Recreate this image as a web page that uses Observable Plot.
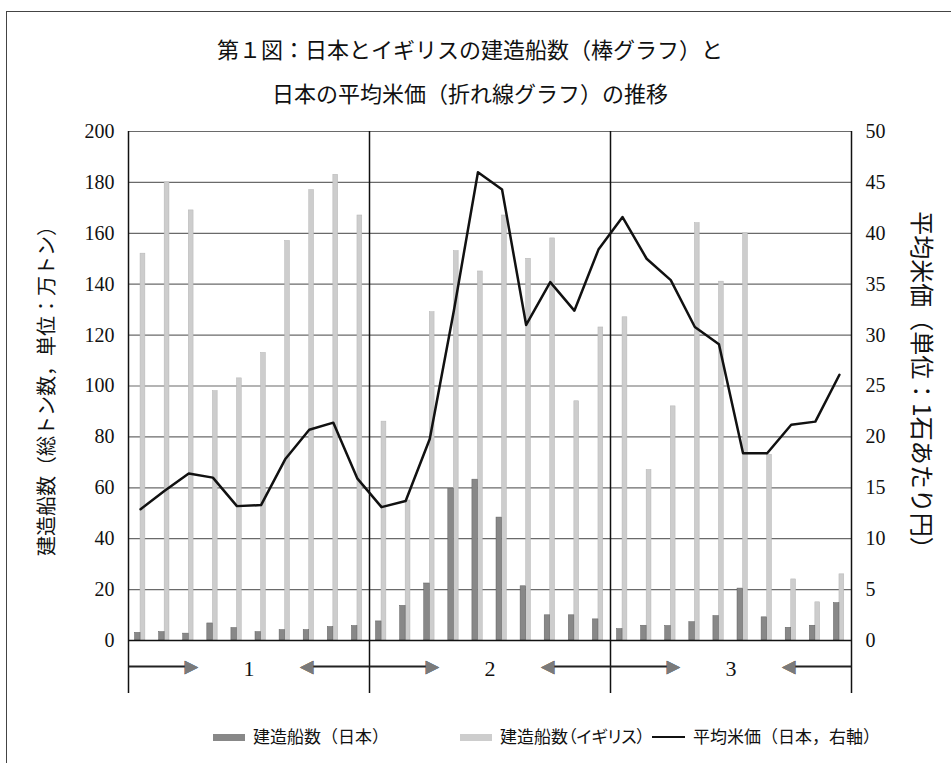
<!DOCTYPE html>
<html>
<head>
<meta charset="utf-8">
<script src="https://cdn.jsdelivr.net/npm/d3@7"></script>
<script src="https://cdn.jsdelivr.net/npm/@observablehq/plot@0.6"></script>
<style>
  body { margin: 0; background: #fff; }
  #wrap { position: relative; width: 951px; height: 763px; overflow: hidden; background: #fff;
          font-family: "Noto Sans CJK JP", sans-serif; color: #111; }
  #border { position: absolute; left: 6px; top: 11px; width: 960px; height: 770px; z-index: 5; pointer-events: none;
            border-top: 1.5px solid #444; border-left: 1.5px solid #444; }
  #title { position: absolute; left: 0; top: 26px; width: 940px; text-align: center;
           font-size: 22px; line-height: 44px; font-weight: 400; }
  #chart { position: absolute; left: 0; top: 114px; }
  #chart svg { display: block; }
  #legend { position: absolute; left: 0; top: 722px; width: 951px; height: 28px; font-size: 17px; line-height: 28px; }
  .item { position: absolute; top: 0; white-space: nowrap; }
  .palt { font-feature-settings: "palt"; }
  .sw { display: inline-block; width: 32px; height: 7px; vertical-align: middle; margin-right: 8px; position: relative; top: -1px; }
  .ln { display: inline-block; width: 33px; height: 2px; background: #111; vertical-align: middle; margin-right: 8px; position: relative; top: -1px; }
</style>
</head>
<body>
<div id="wrap">
  <div id="border"></div>
  <div id="title">第１図：日本とイギリスの建造船数（棒グラフ）と<br>日本の平均米価（折れ線グラフ）の推移</div>
  <div id="chart"></div>
  <div id="legend">
    <span class="item" style="left:213px"><span class="sw" style="background:#888"></span>建造船数（日本）</span>
    <span class="item palt" style="left:460px"><span class="sw" style="background:#cdcdcd"></span>建造船数（イギリス）</span>
    <span class="item" style="left:652px"><span class="ln"></span>平均米価（日本，右軸）</span>
  </div>
</div>
<script>
// ---- data ----
const sections = ["1", "2", "3"];
const groupsPerSection = 10;
// 建造船数（日本）, 万トン
const japanShips = [3, 3.3, 2.7, 6.7, 4.9, 3.3, 4.1, 4.1, 5.3, 5.7,
                    7.5, 13.6, 22.4, 59.6, 63.2, 48.3, 21.3, 9.9, 9.9, 8.3,
                    4.5, 5.8, 5.7, 7.2, 9.6, 20.4, 9.1, 5.0, 5.8, 14.7];
// 建造船数（イギリス）, 万トン
const ukShips = [152, 180, 169, 98, 103, 113, 157, 177, 183, 167,
                 86, 55, 129, 153, 145, 167, 150, 158, 94, 123,
                 127, 67, 92, 164, 141, 160, 73, 24, 15, 26];
// 平均米価（日本）, 1石あたり円
const ricePrice = [12.9, 14.7, 16.4, 16.0, 13.2, 13.3, 17.8, 20.7, 21.4, 15.9,
                   13.1, 13.7, 19.8, 32.4, 46.0, 44.3, 31.0, 35.2, 32.4, 38.4,
                   41.6, 37.5, 35.4, 30.8, 29.1, 18.4, 18.4, 21.2, 21.5, 26.1];
const leftTicks = [0, 20, 40, 60, 80, 100, 120, 140, 160, 180, 200];
const leftTitle = "建造船数（総トン数，単位：万トン）";
const rightTitle = "平均米価（単位：1石あたり円）";

// ---- layout ----
const W = 951, H = 596;
const mTop = 17, mBottom = 70, mLeft = 128, mRight = 100;
const yMax = 200, rightScale = 4;            // right axis 0–50 mapped onto left 0–200
const pxPerUnit = (H - mTop - mBottom) / yMax;
const bandBottom = -53 / pxPerUnit;          // lower band below the baseline
const arrowY = -26 / pxPerUnit;
const labelY = -28 / pxPerUnit;
const nGroups = japanShips.length;
const arrowLen = 2.9;

const rows = japanShips.map((j, i) => ({i, japan: j, uk: ukShips[i], rice: ricePrice[i]}));
const bounds = d3.range(sections.length + 1).map(k => k * groupsPerSection);
const arrows = sections.flatMap((s, k) => [
  {x1: k * groupsPerSection, x2: k * groupsPerSection + arrowLen, dir: 1},
  {x1: (k + 1) * groupsPerSection, x2: (k + 1) * groupsPerSection - arrowLen, dir: -1}
]);

const serif = "'Liberation Serif', 'DejaVu Serif', serif";
const jp = "'Noto Sans CJK JP', sans-serif";

const chart = Plot.plot({
  width: W, height: H,
  marginTop: mTop, marginBottom: mBottom, marginLeft: mLeft, marginRight: mRight,
  style: {fontFamily: serif, fontSize: "20px", color: "#111", background: "white", overflow: "visible"},
  x: {domain: [0, nGroups], axis: null},
  y: {domain: [0, yMax]},
  marks: [
    Plot.ruleY(leftTicks.filter(d => d > 0), {y: d => d, x1: 0, x2: nGroups, stroke: "#6a6a6a", strokeWidth: 1.2}),
    Plot.rect(rows, {x1: d => d.i + 0.5, x2: d => d.i + 0.7, y1: 0, y2: "uk", fill: "#cdcdcd", stroke: "#b5b5b5", strokeWidth: 0.5}),
    Plot.rect(rows, {x1: d => d.i + 0.27, x2: d => d.i + 0.5, y1: 0, y2: "japan", fill: "#888", stroke: "#606060", strokeWidth: 0.5}),
    Plot.line(rows, {x: d => d.i + 0.5, y: d => d.rice * rightScale, stroke: "#111", strokeWidth: 2.5}),
    Plot.ruleY([0], {x1: 0, x2: nGroups, stroke: "#111", strokeWidth: 1.5}),
    Plot.ruleX(bounds, {x: d => d, y1: bandBottom, y2: yMax, stroke: "#111", strokeWidth: 1.5}),
    Plot.link(arrows, {x1: "x1", x2: d => d.x2 - d.dir * 0.3, y1: arrowY, y2: arrowY, stroke: "#222", strokeWidth: 2.2}),
    Plot.text(arrows, {x: d => d.x2 - d.dir * 0.3, y: arrowY, text: d => d.dir > 0 ? "▶" : "◀",
                       fill: "#7a7a7a", stroke: "#333", strokeWidth: 0.6, fontSize: 17, fontFamily: "'DejaVu Sans', sans-serif"}),
    Plot.text(sections, {x: (s, k) => k * groupsPerSection + groupsPerSection / 2, y: labelY, text: d => d,
                         fontSize: 22, fontFamily: serif, fill: "#111"}),
    Plot.axisY({anchor: "left", ticks: leftTicks, tickSize: 0, tickPadding: 14, label: null, fontSize: 20, fontFamily: serif}),
    Plot.axisY({anchor: "right", ticks: leftTicks, tickFormat: d => d / rightScale, tickSize: 0, tickPadding: 14,
                label: null, fontSize: 20, fontFamily: serif}),
    Plot.text([leftTitle], {frameAnchor: "left", dx: -81, rotate: -90, textAnchor: "middle", text: d => d,
                            fontSize: 20, fontFamily: jp, fill: "#111"}),
    Plot.text([rightTitle], {frameAnchor: "right", dx: 69, rotate: 90, textAnchor: "middle", text: d => d,
                             fontSize: 24, fontFamily: jp, fill: "#111"})
  ]
});
document.getElementById("chart").appendChild(chart);
</script>
</body>
</html>
